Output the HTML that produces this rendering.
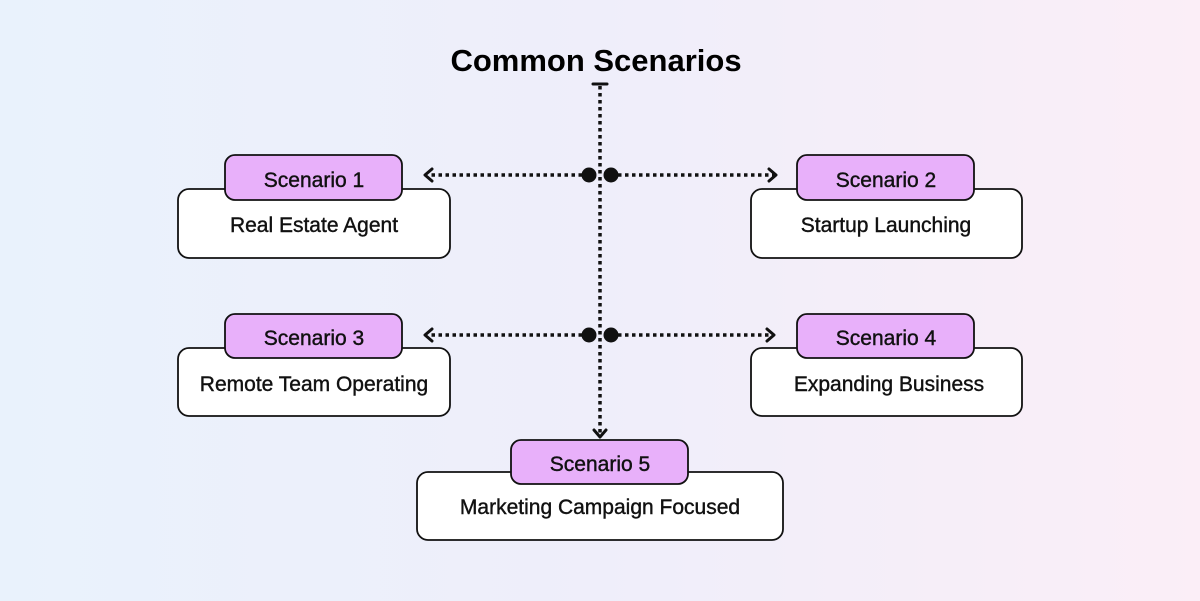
<!DOCTYPE html>
<html><head><style>
body{margin:0;width:1200px;height:596px;overflow:hidden;background:linear-gradient(90deg,#e9f2fc 0%,#efeefa 50%,#fbeef7 100%);font-family:"Liberation Sans",sans-serif}
</style></head><body>
<svg width="1200" height="596" xmlns="http://www.w3.org/2000/svg" font-family="Liberation Sans, sans-serif">
<text x="596" y="71" text-anchor="middle" font-size="31" font-weight="bold" fill="#000">Common Scenarios</text>
<g stroke="#111" stroke-width="3.5" stroke-dasharray="3.5 3.5" fill="none">
<line x1="600" y1="86" x2="600" y2="434"/>
<line x1="589" y1="175" x2="428" y2="175"/>
<line x1="611" y1="175" x2="774" y2="175"/>
<line x1="589" y1="335" x2="428" y2="335"/>
<line x1="611" y1="335" x2="772" y2="335"/>
</g>
<g stroke="#111" stroke-width="3" fill="none" stroke-linecap="round" stroke-linejoin="round">
<line x1="593" y1="84" x2="607" y2="84"/>
<polyline points="432,169 425,175 432,181"/>
<polyline points="769,169 776,175 769,181"/>
<polyline points="432,329 425,335 432,341"/>
<polyline points="767,329 774,335 767,341"/>
<polyline points="594,430 600,437 606,430"/>
</g>
<g fill="#111">
<circle cx="589" cy="175" r="7.5"/><circle cx="611" cy="175" r="7.5"/>
<circle cx="589" cy="335" r="7.5"/><circle cx="611" cy="335" r="7.5"/>
</g>
<g stroke="#111" stroke-width="1.8">
<rect x="178" y="189" width="272" height="69" rx="11" fill="#fff"/>
<rect x="225" y="155" width="177" height="45" rx="10" fill="#e8b0fa"/>
<rect x="751" y="189" width="271" height="69" rx="11" fill="#fff"/>
<rect x="797" y="155" width="177" height="45" rx="10" fill="#e8b0fa"/>
<rect x="178" y="348" width="272" height="68" rx="11" fill="#fff"/>
<rect x="225" y="314" width="177" height="44" rx="10" fill="#e8b0fa"/>
<rect x="751" y="348" width="271" height="68" rx="11" fill="#fff"/>
<rect x="797" y="314" width="177" height="44" rx="10" fill="#e8b0fa"/>
<rect x="417" y="472" width="366" height="68" rx="11" fill="#fff"/>
<rect x="511" y="440" width="177" height="44" rx="10" fill="#e8b0fa"/>
</g>
<g font-size="21" text-anchor="middle" fill="#111" stroke="#111" stroke-width="0.4">
<text x="314" y="187">Scenario 1</text>
<text x="314" y="232">Real Estate Agent</text>
<text x="886" y="187">Scenario 2</text>
<text x="886" y="232">Startup Launching</text>
<text x="314" y="345">Scenario 3</text>
<text x="314" y="391">Remote Team Operating</text>
<text x="886" y="345">Scenario 4</text>
<text x="889" y="391">Expanding Business</text>
<text x="600" y="471">Scenario 5</text>
<text x="600" y="514">Marketing Campaign Focused</text>
</g>
</svg>
</body></html>
